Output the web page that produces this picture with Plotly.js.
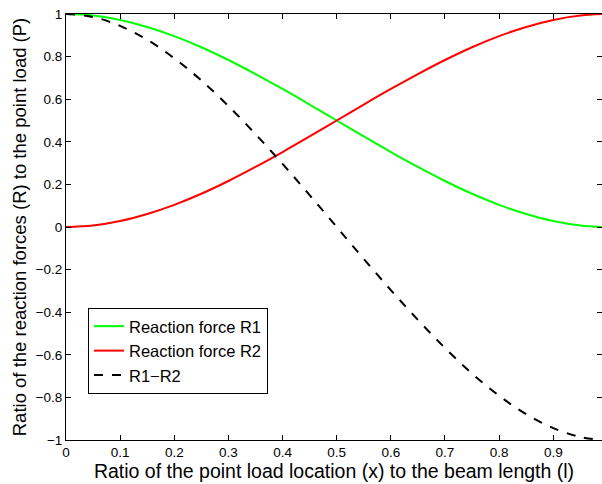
<!DOCTYPE html>
<html><head><meta charset="utf-8">
<script src="https://cdn.plot.ly/plotly-3.0.1.min.js"></script>
<style>html,body{margin:0;padding:0;background:#fff;}#chart{width:602px;height:484px;}</style>
</head><body><div id="chart"></div>
<script>
const xRatio = [0, 0.05, 0.1, 0.15, 0.2, 0.25, 0.3, 0.35, 0.4, 0.45, 0.5, 0.55, 0.6, 0.65, 0.7, 0.75, 0.8, 0.85, 0.9, 0.95, 0.99];
const reactionR1 = [1, 0.993, 0.972, 0.939, 0.896, 0.844, 0.784, 0.718, 0.648, 0.575, 0.5, 0.425, 0.352, 0.282, 0.216, 0.156, 0.104, 0.061, 0.028, 0.007, 0.0003];
const reactionR2 = [0, 0.007, 0.028, 0.061, 0.104, 0.156, 0.216, 0.282, 0.352, 0.425, 0.5, 0.575, 0.648, 0.718, 0.784, 0.844, 0.896, 0.939, 0.972, 0.993, 0.9997];
const diffR1R2 = [1, 0.986, 0.944, 0.879, 0.792, 0.688, 0.568, 0.436, 0.296, 0.150, 0, -0.150, -0.296, -0.436, -0.568, -0.688, -0.792, -0.879, -0.944, -0.986, -0.999];
const seriesNames = ['Reaction force R1', 'Reaction force R2', 'R1\u2212R2'];
const xTicks = [0, 0.1, 0.2, 0.3, 0.4, 0.5, 0.6, 0.7, 0.8, 0.9];
const yTicks = [-1, -0.8, -0.6, -0.4, -0.2, 0, 0.2, 0.4, 0.6, 0.8, 1];
const yTickText = yTicks.map(v => (v < 0 ? '\u2212' + String(-v) : String(v)));

const font = 'Liberation Sans, Arial, sans-serif';
const traces = [
  {x: xRatio, y: reactionR1, name: seriesNames[0], mode: 'lines', line: {color: '#00ff00', width: 2, shape: 'spline'}},
  {x: xRatio, y: reactionR2, name: seriesNames[1], mode: 'lines', line: {color: '#ff0000', width: 2, shape: 'spline'}},
  {x: xRatio, y: diffR1R2, name: seriesNames[2], mode: 'lines', line: {color: '#000000', width: 2, dash: 'dash', shape: 'spline'}}
];
const axisCommon = {
  showline: true, linecolor: '#000', linewidth: 1, mirror: 'ticks', ticks: 'inside', ticklen: 5,
  tickcolor: '#000', showgrid: false, zeroline: false, tickfont: {family: font, size: 13.5, color: '#000'}
};
const layout = {
  width: 602, height: 484,
  margin: {l: 66, r: 0, t: 14, b: 44},
  paper_bgcolor: '#fff', plot_bgcolor: '#fff',
  font: {family: font, color: '#000'},
  showlegend: true,
  legend: {x: 0.041, y: 0.31, xanchor: 'left', yanchor: 'top', bordercolor: '#000', borderwidth: 1,
    bgcolor: '#fff', font: {family: font, size: 16.5, color: '#000'}, tracegroupgap: 0, itemwidth: 30},
  xaxis: Object.assign({}, axisCommon, {range: [0, 0.99], tickvals: xTicks, ticktext: xTicks.map(String),
    title: {text: 'Ratio of the point load location (x) to the beam length (l)', font: {family: font, size: 19.5, color: '#000'}, standoff: 1}}),
  yaxis: Object.assign({}, axisCommon, {range: [-1, 1], tickvals: yTicks, ticktext: yTickText,
    title: {text: 'Ratio of the reaction forces (R) to the point load (P)', font: {family: font, size: 18.5, color: '#000'}, standoff: 4}})
};
Plotly.newPlot('chart', traces, layout, {staticPlot: true, displayModeBar: false});
</script></body></html>
